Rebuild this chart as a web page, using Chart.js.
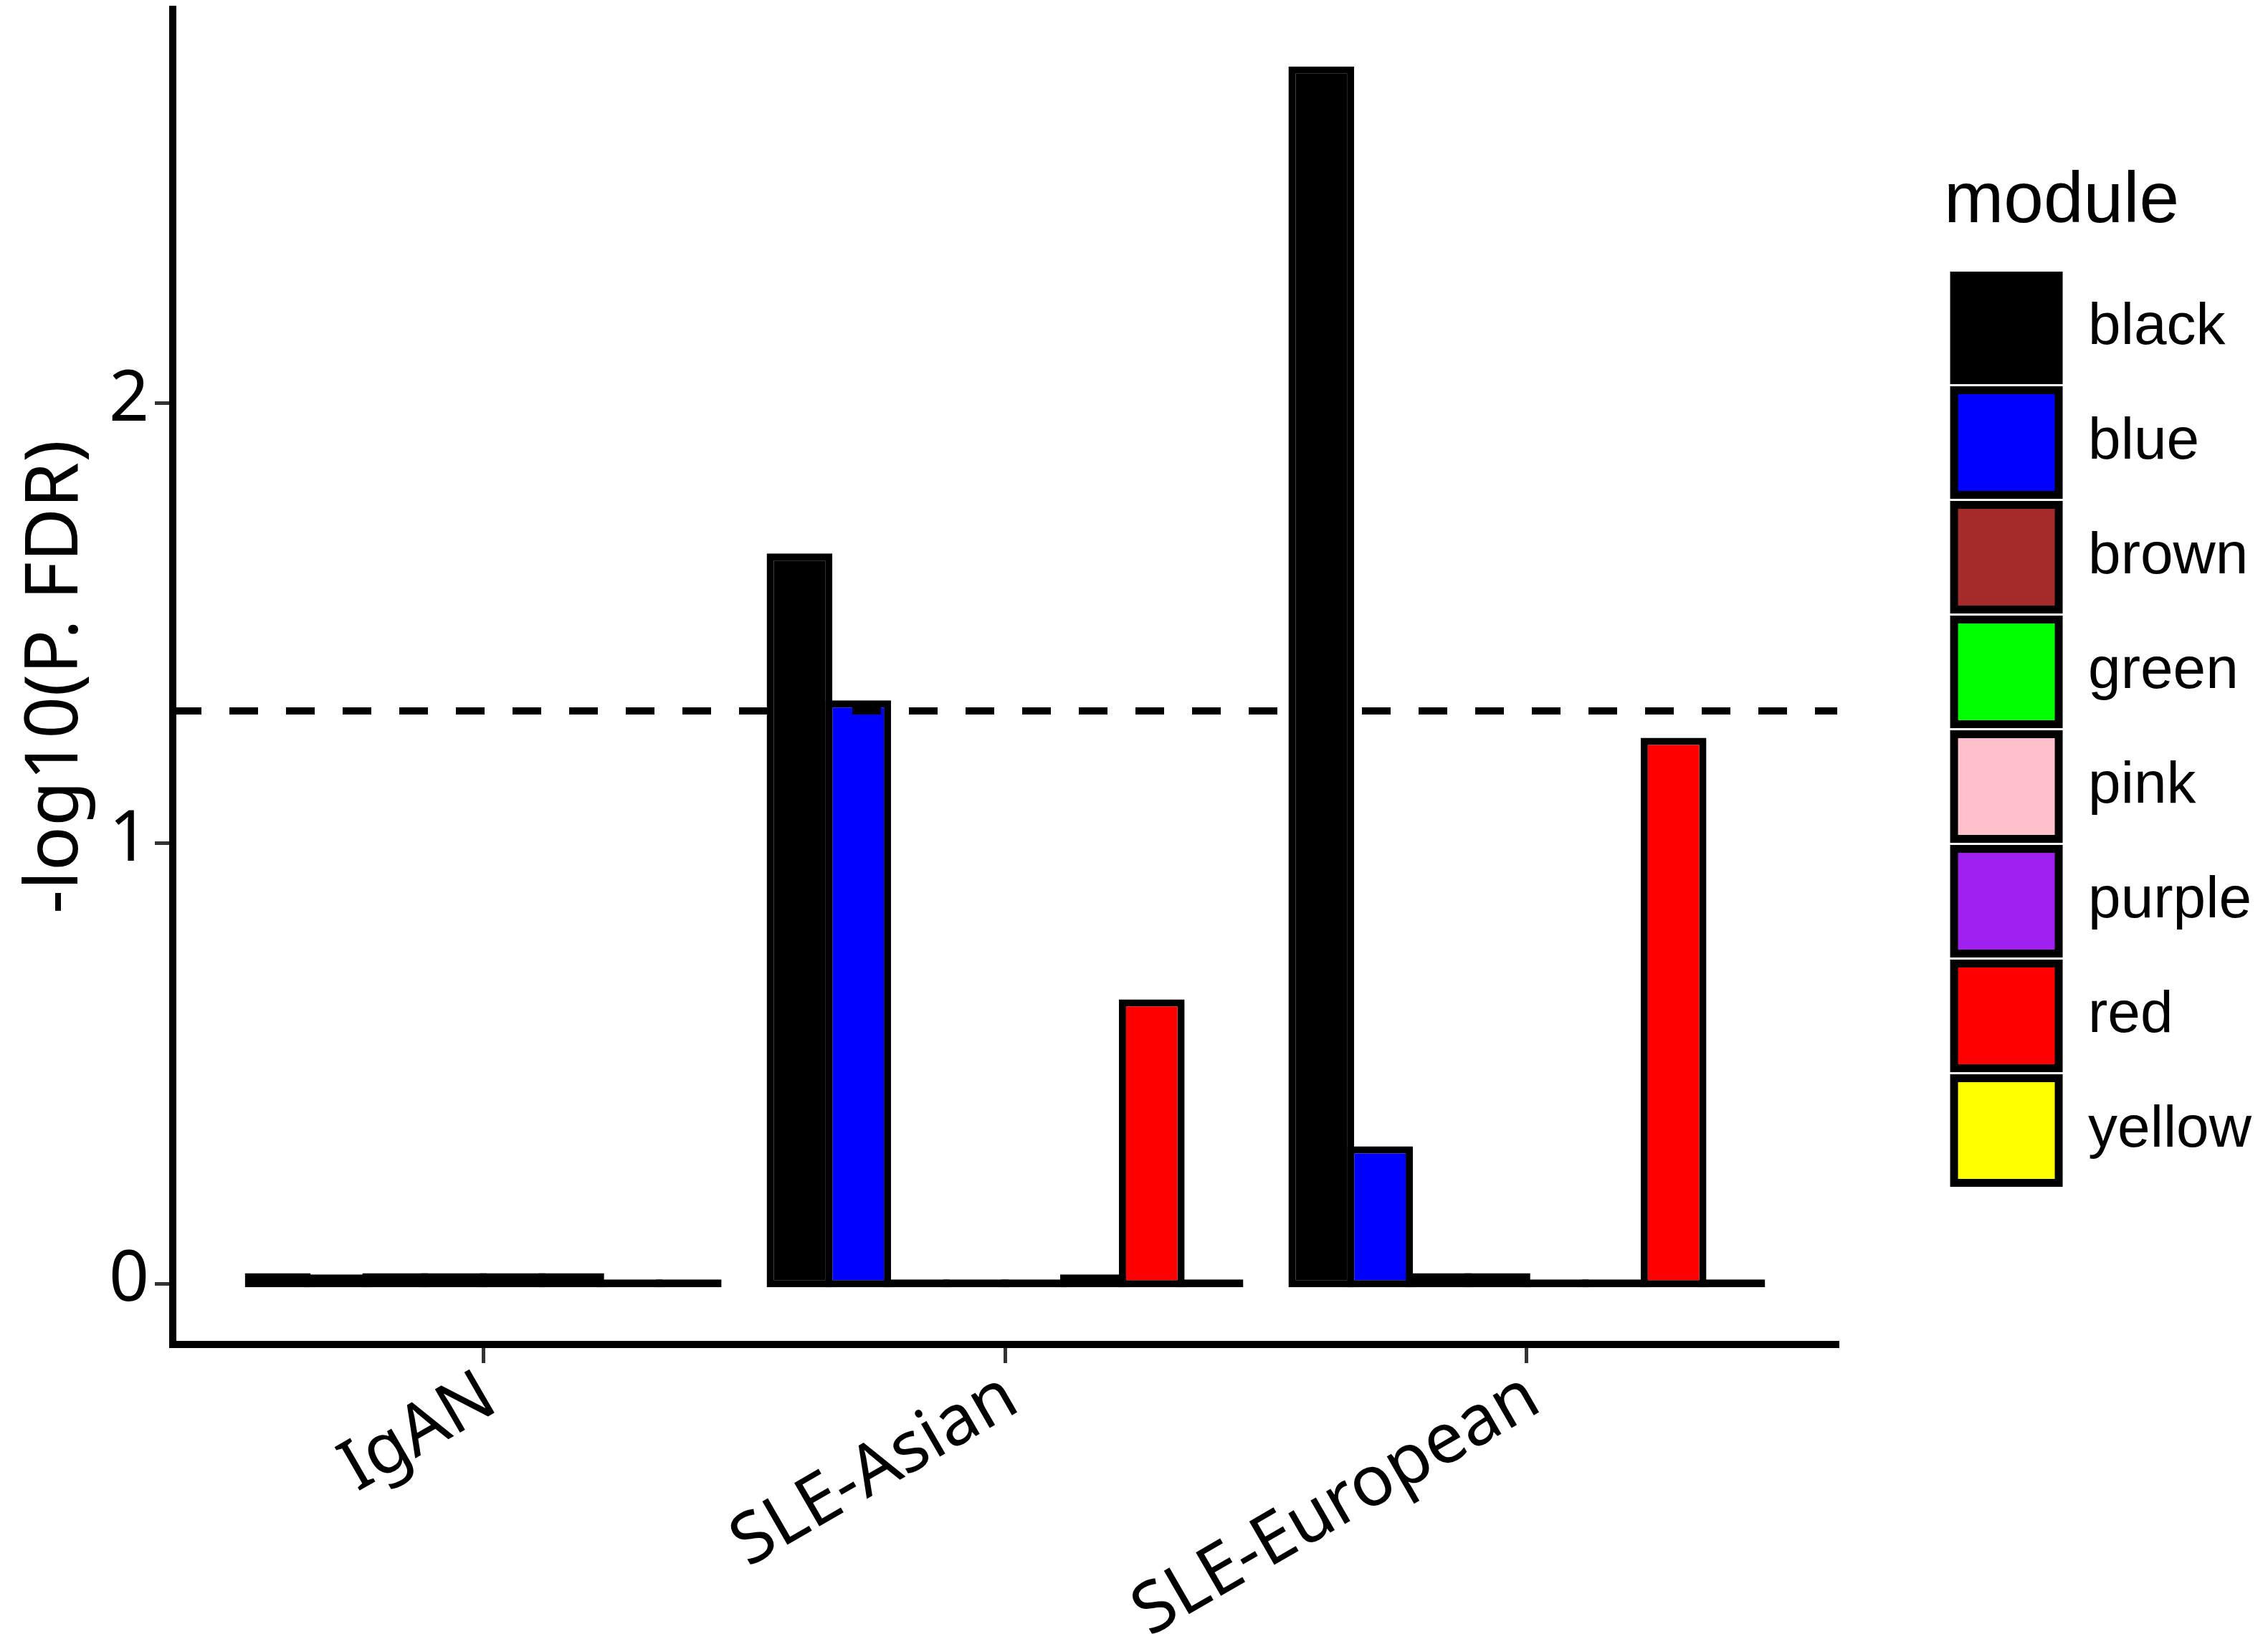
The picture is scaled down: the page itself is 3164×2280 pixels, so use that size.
<!DOCTYPE html>
<html>
<head>
<meta charset="utf-8">
<script src="https://cdn.jsdelivr.net/npm/chart.js@4.4.1/dist/chart.umd.min.js"></script>
<style>
  html, body { margin: 0; padding: 0; background: #ffffff; }
  #wrap { width: 3164px; height: 2280px; position: relative; }
</style>
</head>
<body>
<div id="wrap"><canvas id="chart"></canvas></div>
<script>
const categories = ["IgAN", "SLE-Asian", "SLE-European"];
const modules = ["black", "blue", "brown", "green", "pink", "purple", "red", "yellow"];
const moduleColors = ["#000000", "#0000FF", "#A52A2A", "#00FF00", "#FFC0CB", "#A020F0", "#FF0000", "#FFFF00"];

// -log10(P. FDR) per module, one value per category (IgAN, SLE-Asian, SLE-European)
const blackValues = [0.024, 1.659, 2.765];
const blueValues = [0.021, 1.325, 0.312];
const brownValues = [0.024, 0, 0.024];
const greenValues = [0.024, 0, 0.024];
const pinkValues = [0.024, 0, 0];
const purpleValues = [0.024, 0.021, 0];
const redValues = [0, 0.646, 1.24];
const yellowValues = [0, 0, 0];
const moduleValues = [blackValues, blueValues, brownValues, greenValues, pinkValues, purpleValues, redValues, yellowValues];

const yTicks = [0, 1, 2];
const fdrThreshold = 1.301;

const axisFont = "'Noto Sans', 'DejaVu Sans', sans-serif";
const legendFont = "'Liberation Sans', Arial, sans-serif";

const thresholdLine = {
  id: "thresholdLine",
  afterDatasetsDraw(chart) {
    const { ctx, chartArea, scales } = chart;
    const yPix = scales.y.getPixelForValue(fdrThreshold);
    ctx.save();
    ctx.strokeStyle = "#000000";
    ctx.lineWidth = 10;
    ctx.setLineDash([40, 39]);
    ctx.beginPath();
    ctx.moveTo(chartArea.left, yPix);
    ctx.lineTo(chartArea.right, yPix);
    ctx.stroke();
    ctx.restore();
  },
};

const datasets = modules.map((name, i) => ({
  label: name,
  data: moduleValues[i].map((v, j) => ({ x: j, y: v })),
  backgroundColor: moduleColors[i],
  borderColor: "#000000",
  borderWidth: 10,
  borderSkipped: false,
  inflateAmount: 0,
  base: -0.008,
  minBarLength: 11,
  categoryPercentage: 0.9,
  barPercentage: 1.12,
}));

Chart.defaults.color = "#000000";

new Chart(document.getElementById("chart"), {
  type: "bar",
  data: { datasets },
  options: {
    responsive: true,
    maintainAspectRatio: false,
    devicePixelRatio: 1,
    animation: false,
    layout: { padding: { top: 9, right: 13, bottom: 0, left: 0 } },
    plugins: {
      tooltip: { enabled: false },
      legend: {
        position: "right",
        fullSize: false,
        align: "center",
        title: {
          display: true,
          text: "module",
          position: "start",
          color: "#000000",
          font: { family: legendFont, size: 100, lineHeight: 1.2 },
          padding: { top: 7.5, bottom: 18.5 },
        },
        labels: {
          boxWidth: 146,
          boxHeight: 146,
          padding: 14,
          color: "#000000",
          font: { family: legendFont, size: 82 },
          generateLabels: (chart) =>
            chart.data.datasets.map((ds, i) => ({
              text: ds.label,
              fillStyle: moduleColors[i],
              strokeStyle: "#000000",
              lineWidth: 11,
              fontColor: "#000000",
              hidden: false,
              datasetIndex: i,
            })),
        },
      },
    },
    scales: {
      x: {
        type: "linear",
        min: -0.595,
        max: 2.595,
        offset: false,
        afterBuildTicks: (axis) => {
          axis.ticks = categories.map((_, i) => ({ value: i }));
        },
        afterFit: (axis) => {
          axis.height = 404;
        },
        grid: {
          display: true,
          offset: false,
          drawOnChartArea: false,
          drawTicks: true,
          tickLength: 26,
          color: "#333333",
          lineWidth: 5,
        },
        border: { display: true, color: "#000000", width: 10 },
        ticks: {
          autoSkip: false,
          minRotation: 30,
          maxRotation: 30,
          padding: 19,
          labelOffset: 10,
          color: "#000000",
          font: { family: axisFont, size: 98, lineHeight: 0.5 },
          callback: (value) => categories[value],
        },
      },
      y: {
        type: "linear",
        position: "left",
        min: -0.138,
        max: 2.895,
        afterBuildTicks: (axis) => {
          axis.ticks = yTicks.map((v) => ({ value: v }));
        },
        afterFit: (axis) => {
          axis.width = 241;
        },
        grid: {
          display: true,
          drawOnChartArea: false,
          drawTicks: true,
          tickLength: 25,
          color: "#333333",
          lineWidth: 5,
        },
        border: { display: true, color: "#000000", width: 10 },
        ticks: {
          padding: 8,
          labelOffset: -4,
          color: "#000000",
          font: { family: axisFont, size: 98, lineHeight: 0.1 },
        },
        title: {
          display: true,
          text: "-log10(P. FDR)",
          color: "#000000",
          font: { family: axisFont, size: 103, lineHeight: 0.85 },
          padding: { top: 35, bottom: 0 },
        },
      },
      y2: {
        type: "linear",
        position: "right",
        display: true,
        grid: { display: false },
        border: { display: false },
        ticks: { display: false },
        afterFit: (axis) => {
          axis.width = 149;
        },
      },
    },
  },
  plugins: [thresholdLine],
});
</script>
</body>
</html>
